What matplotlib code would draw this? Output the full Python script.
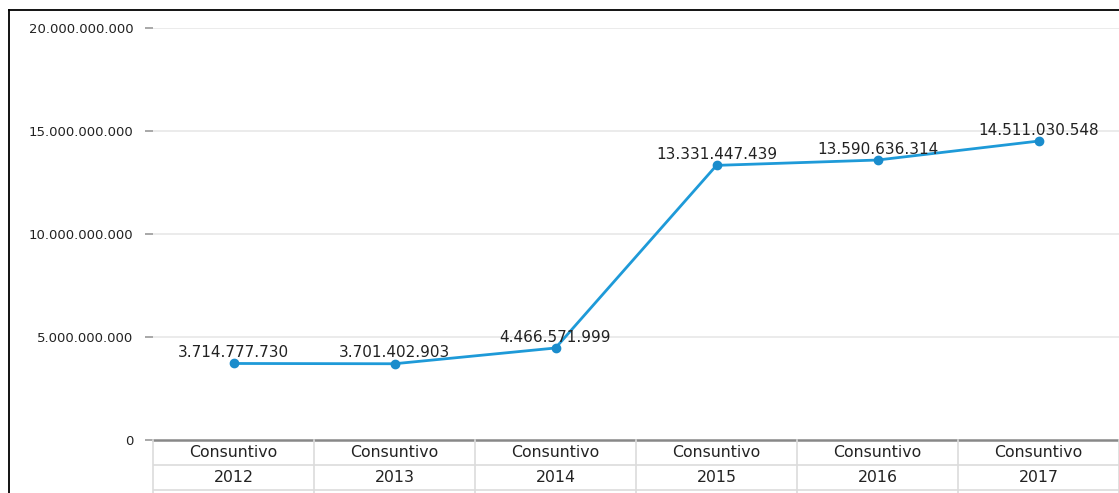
import matplotlib.pyplot as plt
from matplotlib.lines import Line2D

years = ["2012", "2013", "2014", "2015", "2016", "2017"]
series_name = "Consuntivo"
values = [3714777730, 3701402903, 4466571999, 13331447439, 13590636314, 14511030548]
yticks = [0, 5000000000, 10000000000, 15000000000, 20000000000]


def fmt(v):
    return f"{v:,.0f}".replace(",", ".")


W, H = 1119, 493
fig = plt.figure(figsize=(W / 100, H / 100), dpi=100)
fig.patch.set_facecolor("white")

# outer frame (left and top edges visible)
fig.add_artist(Line2D([9 / W, 9 / W], [0, 1 - 10 / H], color="black", lw=1.3))
fig.add_artist(Line2D([9 / W, 1], [1 - 10 / H, 1 - 10 / H], color="black", lw=1.3))

left, right = 153 / W, 1.0
bottom, top = 1 - 440 / H, 1 - 28 / H
ax = fig.add_axes([left, bottom, right - left, top - bottom])
x = list(range(len(years)))
ax.set_xlim(-0.5, len(years) - 0.5)
ax.set_ylim(0, 20000000000)
for s in ax.spines.values():
    s.set_visible(False)
ax.set_xticks([])
ax.set_yticks(yticks)
ax.set_yticklabels([fmt(v) for v in yticks], fontsize=9.5, color="#222222")
ax.tick_params(axis="y", length=6, width=1.2, color="#999999", pad=8)
for v in yticks[1:]:
    ax.axhline(v, color="#e8e8e8", lw=1.2, zorder=0)
ax.axhline(0, color="#888888", lw=1.8, zorder=1, clip_on=False)

ax.plot(x, values, color="#1e9ad8", lw=2, zorder=3)
ax.plot(x, values, "o", color="#1a8ccc", ms=6, zorder=4)
for xi, v in zip(x, values):
    ax.annotate(fmt(v), (xi, v), xytext=(0, 2.5), textcoords="offset points",
                ha="center", va="bottom", fontsize=11, color="#222222")

# category table below the plot
tax = fig.add_axes([left, 0, right - left, bottom])
tax.set_xlim(-0.5, len(years) - 0.5)
tax.set_ylim(0, 53)
tax.axis("off")
grid_c = "#dcdcdc"
for i in range(len(years) + 1):
    tax.plot([i - 0.5, i - 0.5], [0, 53], color=grid_c, lw=1.2, clip_on=False)
tax.plot([-0.5, len(years) - 0.5], [28, 28], color=grid_c, lw=1.2)
tax.plot([-0.5, len(years) - 0.5], [3, 3], color=grid_c, lw=1.2)
for xi, yr in zip(x, years):
    tax.text(xi, 40.5, series_name, ha="center", va="center", fontsize=11.3, color="#222222")
    tax.text(xi, 15, yr, ha="center", va="center", fontsize=11.3, color="#222222")

fig.savefig("out.png", dpi=100)
